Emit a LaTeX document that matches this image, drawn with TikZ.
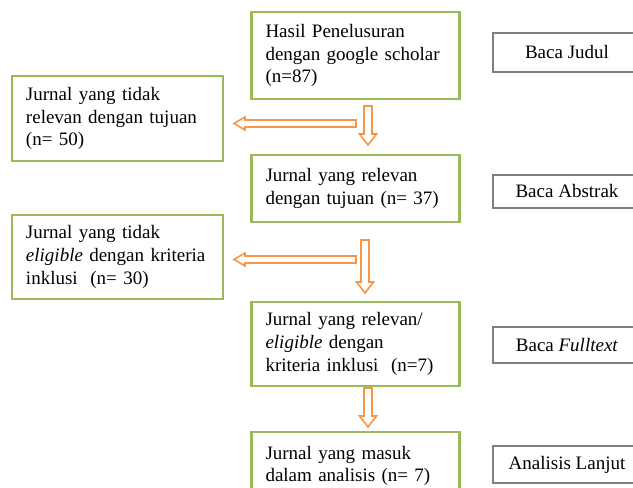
\documentclass[tikz,border=0pt]{standalone}
\usepackage{fontspec}
\setmainfont{Liberation Serif}
\definecolor{boxgreen}{HTML}{9BBB59}
\definecolor{arrorange}{HTML}{F79646}
\definecolor{boxgray}{HTML}{7F7F7F}
\tikzset{
  x=0.75pt, y=-0.75pt,
  gbox/.style={draw=boxgreen, line width=2.2pt, fill=white, align=left,
    font=\fontsize{14.25}{17}\selectfont, inner sep=0pt},
  midbox/.style={gbox, minimum width=156pt, text width=135pt},
  leftbox/.style={gbox, minimum width=158.25pt, text width=137.25pt},
  stagebox/.style={draw=boxgray, line width=0.8pt, fill=white, align=center,
    font=\fontsize{14.25}{17}\selectfont, inner sep=0pt, minimum width=111pt},
  holl/.style={draw=arrorange, fill=white, line width=1.2pt, line join=miter}
}
\newcommand\arrdown[4]{%
  \coordinate (#1s) at (#2,#3); \coordinate (#1e) at (#2,#4);
  \draw[holl] (#2-4,#3) -- (#2+4,#3) -- (#2+4,#4-11) -- (#2+8.5,#4-11) -- (#1e)
    -- (#2-8.5,#4-11) -- (#2-4,#4-11) -- cycle;}
\newcommand\arrleft[4]{%
  \coordinate (#1s) at (#3,#2); \coordinate (#1e) at (#4,#2);
  \draw[holl] (#3,#2-3.5) -- (#3,#2+3.5) -- (#4+11,#2+3.5) -- (#4+11,#2+6.5) -- (#1e)
    -- (#4+11,#2-6.5) -- (#4+11,#2-3.5) -- cycle;}
\begin{document}
\begin{tikzpicture}
\clip (0,0) rectangle (633,488);
\fill[white] (0,0) rectangle (633,488);

% centre column
\node[midbox, minimum height=65.25pt] (hasil) at (355.5,55.5)
  {Hasil Penelusuran\\dengan google scholar\\(n=87)};
\node[midbox, minimum height=50.25pt] (relevan) at (355.5,188.5)
  {Jurnal yang relevan\\dengan tujuan (n= 37)};
\node[midbox, minimum height=63pt] (eligible) at (355.5,344)
  {Jurnal yang relevan/\\\textit{eligible} dengan\\kriteria inklusi\ \ (n=7)};
\node[midbox, minimum height=51pt] (analisis) at (355.5,466)
  {Jurnal yang masuk\\dalam analisis (n= 7)};

% left column
\node[leftbox, minimum height=63.75pt] (tidakrel) at (117.5,118.5)
  {Jurnal yang tidak\\relevan dengan tujuan\\(n= 50)};
\node[leftbox, minimum height=63pt] (tidakelig) at (117.5,257)
  {Jurnal yang tidak\\\textit{eligible} dengan kriteria\\inklusi\ \ (n= 30)};

% right column
\node[stagebox, minimum height=29.25pt] (judul) at (567,52.5) {Baca Judul};
\node[stagebox, minimum height=24.75pt] (abstrak) at (567,191.5) {Baca Abstrak};
\node[stagebox, minimum height=27pt] (fulltext) at (567,345) {Baca \textit{Fulltext}};
\node[stagebox, minimum height=27.75pt] (lanjut) at (567,464.5) {Analisis Lanjut};

% arrows
\arrdown{d1}{368}{106}{145}
\arrleft{l1}{123.5}{356}{234}
\arrdown{d2}{365}{240}{293}
\arrleft{l2}{259.5}{356}{234}
\arrdown{d3}{368}{388}{427}
\end{tikzpicture}
\end{document}
